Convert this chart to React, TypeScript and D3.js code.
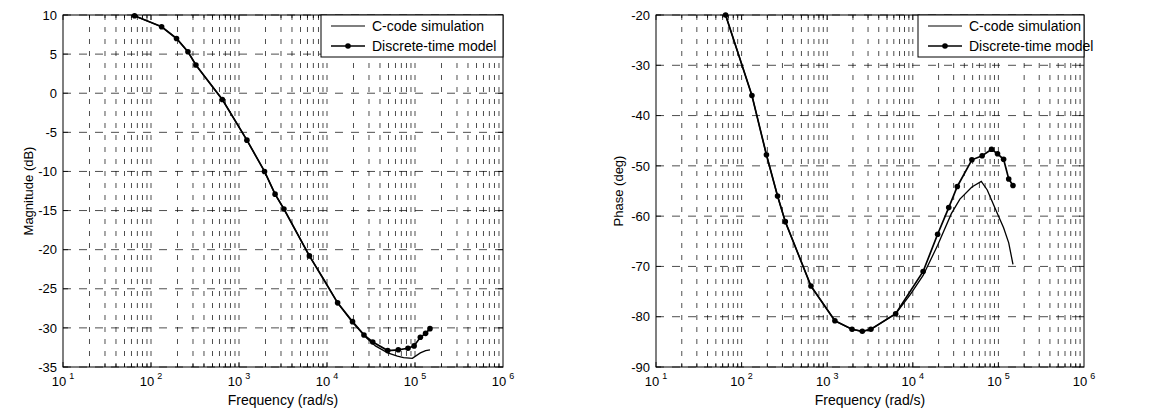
import React from 'react';
import * as d3 from 'd3';

// ---- data ----
const modelFreq = [65, 132, 195, 263, 324, 646, 1230, 1950, 2570, 3240, 6310, 13200, 19500, 26300, 33100, 49000, 64600, 83200, 97700, 115000, 132000, 148000];
const modelMag = [9.9, 8.5, 7.0, 5.3, 3.6, -0.8, -6.0, -10.0, -12.9, -14.8, -20.8, -26.8, -29.2, -30.9, -31.8, -32.9, -32.8, -32.6, -32.3, -31.2, -30.7, -30.1];
const modelPhase = [-20.0, -36.0, -47.8, -56.0, -61.1, -73.9, -80.8, -82.5, -82.9, -82.5, -79.4, -71.0, -63.6, -58.3, -54.1, -48.8, -48.0, -46.7, -47.6, -48.7, -52.6, -53.9];

const simFreq = [65, 132, 195, 263, 324, 646, 1230, 1950, 2570, 3240, 6310, 9330, 13200, 19500, 28200, 35500, 49000, 63100, 74100, 93300, 115000, 132000, 148000];
const simMag = [9.9, 8.5, 7.0, 5.3, 3.6, -0.8, -6.0, -10.0, -12.9, -14.8, -20.8, -23.9, -26.8, -29.3, -31.3, -32.3, -33.2, -33.6, -33.8, -33.9, -33.2, -32.9, -32.8];
const simPhase = [-20.0, -36.0, -47.8, -56.0, -61.1, -73.9, -80.8, -82.5, -82.9, -82.5, -79.4, -75.6, -71.8, -65.8, -59.5, -56.6, -54.2, -53.1, -54.8, -58.8, -62.3, -65.3, -69.6];

const freqExponents = [1, 2, 3, 4, 5, 6];
const magTicks = [10, 5, 0, -5, -10, -15, -20, -25, -30, -35];
const phaseTicks = [-20, -30, -40, -50, -60, -70, -80, -90];
const legendLabels = ['C-code simulation', 'Discrete-time model'];
const xLabel = 'Frequency (rad/s)';
const magLabel = 'Magnitude (dB)';
const phaseLabel = 'Phase (deg)';

const FONT = '"Liberation Sans", Arial, Helvetica, sans-serif';

type PlotProps = {
  left: number; right: number; top: number; bottom: number;
  yDomain: [number, number]; yTicks: number[]; yLabel: string; yLabelX: number;
  sim: number[]; model: number[];
  legendLeft: number;
};

function Plot(p: PlotProps) {
  const x = d3.scaleLog().domain([10, 1e6]).range([p.left, p.right]);
  const y = d3.scaleLinear().domain(p.yDomain).range([p.bottom, p.top]);

  const gridX: number[] = [];
  for (let e = 1; e <= 5; e++) for (let k = 1; k <= 9; k++) gridX.push(k * Math.pow(10, e));
  const isMajor = (f: number) => Math.abs(Math.log10(f) - Math.round(Math.log10(f))) < 1e-9;

  const line = d3.line<[number, number]>().x(d => x(d[0])).y(d => y(d[1]));
  const simPts: [number, number][] = simFreq.map((f, i) => [f, p.sim[i]]);
  const modelPts: [number, number][] = modelFreq.map((f, i) => [f, p.model[i]]);

  const lgTop = p.top;
  const lgH = 42;
  const lgW = p.right - p.legendLeft;

  return (
    <g>
      {/* vertical grid */}
      {gridX.map((f, i) => (
        (f > 10 && f < 1e6) ? <line key={'gx' + i} x1={x(f)} x2={x(f)} y1={p.top} y2={p.bottom}
          stroke="#000" strokeWidth={0.7} strokeDasharray="5,7" /> : null
      ))}
      {/* horizontal grid */}
      {p.yTicks.map((t, i) => (
        <line key={'gy' + i} x1={p.left} x2={p.right} y1={y(t)} y2={y(t)}
          stroke="#000" strokeWidth={0.7} strokeDasharray="8,8" />
      ))}
      {/* x ticks bottom and top */}
      {gridX.map((f, i) => (
        <g key={'tb' + i}>
          <line x1={x(f)} x2={x(f)} y1={p.bottom} y2={p.bottom - (isMajor(f) ? 5 : 3)} stroke="#000" strokeWidth={0.8} />
          <line x1={x(f)} x2={x(f)} y1={p.top} y2={p.top + (isMajor(f) ? 5 : 3)} stroke="#000" strokeWidth={0.8} />
        </g>
      ))}
      {/* y ticks left and right */}
      {p.yTicks.map((t, i) => (
        <g key={'ty' + i}>
          <line x1={p.left} x2={p.left + 5} y1={y(t)} y2={y(t)} stroke="#000" strokeWidth={0.8} />
          <line x1={p.right} x2={p.right - 5} y1={y(t)} y2={y(t)} stroke="#000" strokeWidth={0.8} />
        </g>
      ))}
      {/* frame */}
      <rect x={p.left} y={p.top} width={p.right - p.left} height={p.bottom - p.top} fill="none" stroke="#000" strokeWidth={1} />
      {/* curves */}
      <path d={line(simPts) || ''} fill="none" stroke="#000" strokeWidth={1.3} />
      <path d={line(modelPts) || ''} fill="none" stroke="#000" strokeWidth={1.7} />
      {modelPts.map((d, i) => (
        <circle key={'m' + i} cx={x(d[0])} cy={y(d[1])} r={2.8} fill="#000" />
      ))}
      {/* x tick labels */}
      {freqExponents.map(e => (
        <text key={'xt' + e} x={x(Math.pow(10, e))} y={p.bottom + 19} fontSize={13} fontFamily={FONT} textAnchor="middle">
          10<tspan dx={3} dy={-7} fontSize={9}>{e}</tspan>
        </text>
      ))}
      {/* y tick labels */}
      {p.yTicks.map((t, i) => (
        <text key={'yt' + i} x={p.left - 6} y={y(t)} dy="0.36em" fontSize={13} fontFamily={FONT} textAnchor="end">{t}</text>
      ))}
      {/* axis labels */}
      <text x={(p.left + p.right) / 2} y={p.bottom + 38} fontSize={14} fontFamily={FONT} textAnchor="middle">{xLabel}</text>
      <text transform={`translate(${p.yLabelX},${(p.top + p.bottom) / 2}) rotate(-90)`} fontSize={13} fontFamily={FONT} textAnchor="middle">{p.yLabel}</text>
      {/* legend */}
      <rect x={p.legendLeft} y={lgTop} width={lgW} height={lgH} fill="#fff" stroke="#000" strokeWidth={1} />
      <line x1={p.legendLeft + 10} x2={p.legendLeft + 44} y1={lgTop + 11} y2={lgTop + 11} stroke="#000" strokeWidth={1.2} />
      <text x={p.legendLeft + 51} y={lgTop + 11} dy="0.36em" fontSize={14} fontFamily={FONT}>{legendLabels[0]}</text>
      <line x1={p.legendLeft + 10} x2={p.legendLeft + 44} y1={lgTop + 31} y2={lgTop + 31} stroke="#000" strokeWidth={1.7} />
      <circle cx={p.legendLeft + 27} cy={lgTop + 31} r={2.8} fill="#000" />
      <text x={p.legendLeft + 51} y={lgTop + 31} dy="0.36em" fontSize={14} fontFamily={FONT}>{legendLabels[1]}</text>
    </g>
  );
}

export default function App() {
  return (
    <svg width={1159} height={414} style={{ position: 'absolute', left: 0, top: 0, background: '#fff' }}>
      <rect x={0} y={0} width={1159} height={414} fill="#fff" />
      <Plot left={63} right={503} top={15} bottom={367} yDomain={[-35, 10]} yTicks={magTicks}
        yLabel={magLabel} yLabelX={33} sim={simMag} model={modelMag} legendLeft={321} />
      <Plot left={656} right={1084} top={15} bottom={367} yDomain={[-90, -20]} yTicks={phaseTicks}
        yLabel={phaseLabel} yLabelX={623} sim={simPhase} model={modelPhase} legendLeft={918} />
    </svg>
  );
}
